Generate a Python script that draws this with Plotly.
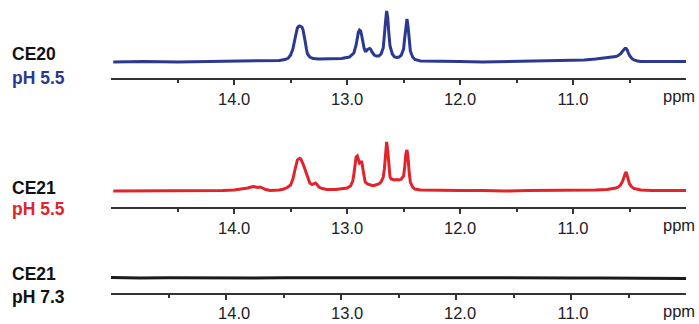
import plotly.graph_objects as go

# ---------------- data (intensity in arbitrary units above baseline) ----------------
ppm_ce20 = [15.07, 14.8, 14.5, 14.2, 13.9, 13.7, 13.6, 13.55, 13.52, 13.50, 13.48, 13.46, 13.45, 13.44,
            13.43, 13.42, 13.41, 13.40, 13.39, 13.38, 13.37, 13.36, 13.35, 13.33, 13.30, 13.25, 13.15,
            13.05, 12.98, 12.94, 12.92, 12.91, 12.90, 12.89, 12.88, 12.87, 12.86, 12.85, 12.84, 12.83,
            12.82, 12.81, 12.80, 12.79, 12.78, 12.76, 12.74, 12.72, 12.70, 12.68, 12.67, 12.66, 12.65,
            12.64, 12.63, 12.62, 12.60, 12.58, 12.56, 12.54, 12.52, 12.50, 12.49, 12.48, 12.47, 12.46,
            12.45, 12.44, 12.42, 12.40, 12.35, 12.2, 12.0, 11.8, 11.6, 11.4, 11.2, 11.0, 10.9, 10.8,
            10.7, 10.65, 10.62, 10.60, 10.58, 10.56, 10.55, 10.54, 10.53, 10.52, 10.51, 10.50, 10.48,
            10.46, 10.43, 10.40, 10.3, 10.2, 10.1, 10.0]
int_ce20 = [0, 0.5, 0, 0.5, 0.5, 1, 1.5, 2.5, 4, 7, 13, 24, 30, 34,
            35.5, 36, 35.5, 35, 32, 27, 20, 13, 8, 5, 3.5, 3, 3,
            3.5, 5, 9, 17, 24, 30, 32, 31, 26, 19, 14, 11, 11,
            12.5, 13.5, 13.5, 12.5, 10, 7, 6, 6, 8, 14, 24, 40, 51,
            44, 28, 16, 8, 5, 4.5, 5, 7, 13, 24, 38, 43, 35,
            20, 11, 5, 2.5, 1, 0.5, 0.5, 0, 0.5, 0.5, 1, 1.5, 2, 3,
            4, 4.5, 5.5, 6.5, 8, 11, 12.5, 13.5, 13.5, 12, 9, 6.5, 3.5,
            2, 1, 0.5, 0.5, 0.5, 0, 0.5]

ppm_ce21_55 = [15.07, 14.9, 14.6, 14.3, 14.1, 14.0, 13.93, 13.88, 13.85, 13.83, 13.81, 13.79, 13.77, 13.75,
               13.72, 13.68, 13.64, 13.60, 13.56, 13.53, 13.50, 13.48, 13.46, 13.45, 13.44, 13.43, 13.42,
               13.41, 13.40, 13.39, 13.38, 13.37, 13.36, 13.35, 13.34, 13.33, 13.31, 13.29, 13.28, 13.27,
               13.25, 13.22, 13.18, 13.1, 13.05, 13.0, 12.97, 12.95, 12.94, 12.93, 12.92, 12.91, 12.90,
               12.89, 12.88, 12.87, 12.86, 12.85, 12.84, 12.82, 12.80, 12.78, 12.76, 12.74, 12.72, 12.70,
               12.68, 12.67, 12.66, 12.65, 12.64, 12.63, 12.62, 12.61, 12.60, 12.58, 12.56, 12.54, 12.52,
               12.50, 12.49, 12.48, 12.47, 12.46, 12.45, 12.44, 12.42, 12.40, 12.35, 12.2, 12.0, 11.8,
               11.6, 11.4, 11.2, 11.0, 10.9, 10.8, 10.7, 10.65, 10.62, 10.60, 10.58, 10.56, 10.55, 10.54,
               10.53, 10.52, 10.51, 10.50, 10.48, 10.46, 10.43, 10.40, 10.3, 10.2, 10.1, 10.0]
int_ce21_55 = [0, 0, 0, 0, 0.5, 1, 2, 3, 4, 4.5, 4, 3.5, 4, 3,
               1.5, 0.5, 0.5, 1, 2, 3.5, 6, 12, 22, 28, 31, 32, 32.5,
               32, 30, 27, 24, 21, 17, 13, 10, 8, 6.5, 7.5, 8, 7,
               4, 2.5, 1.5, 1.5, 2, 3, 5, 10, 17, 28, 34, 35, 31,
               28, 29, 29, 22, 13, 9, 7, 6, 5.5, 5.5, 6, 7, 9,
               14, 22, 38, 49, 40, 22, 14, 12, 11.5, 11, 11.5, 11, 12,
               15, 24, 37, 41, 33, 18, 9, 4, 2, 1, 0.5, 0.5, 0.5,
               0, 0.5, 0.5, 0.5, 1, 1, 1.5, 2, 3, 4, 6, 10, 14, 17,
               19, 16, 11, 7, 4, 2.5, 1.5, 1, 0.5, 0.5, 0.5, 0.5]

ppm_ce21_73 = [15.0, 14.75, 14.5, 14.25, 14.0, 13.75, 13.5, 13.25, 13.0, 12.75, 12.5, 12.4, 12.25, 12.0,
               11.75, 11.5, 11.25, 11.0, 10.75, 10.5, 10.25, 10.0]
int_ce21_73 = [0.5, 0, 0.3, 0, 0.3, 0, 0.3, 0, 0.3, 0.3, 0.5, 0.7, 0.5, 0.3,
               0.3, 0, 0, 0, 0, -0.3, -0.3, -0.6]

tick_vals = [14, 13, 12, 11]
tick_text = ["14.0", "13.0", "12.0", "11.0"]
minor_vals = [14.5, 13.5, 12.5, 11.5, 10.5]

sample_names = ["CE20", "CE21", "CE21"]
ph_labels = ["pH 5.5", "pH 5.5", "pH 7.3"]
colors = ["#2b3990", "#e1232b", "#1a1a1a"]

# ---------------- figure ----------------
W, H = 699, 324


def py(y):
    return 1 - y / H


xdom = [111 / W, 686 / W]
fig = go.Figure()
fig.add_trace(go.Scatter(x=ppm_ce20, y=int_ce20, mode="lines", line=dict(color=colors[0], width=3),
                         xaxis="x", yaxis="y", hoverinfo="skip"))
fig.add_trace(go.Scatter(x=ppm_ce21_55, y=int_ce21_55, mode="lines", line=dict(color=colors[1], width=3),
                         xaxis="x2", yaxis="y2", hoverinfo="skip"))
fig.add_trace(go.Scatter(x=ppm_ce21_73, y=int_ce21_73, mode="lines", line=dict(color=colors[2], width=3),
                         xaxis="x3", yaxis="y3", hoverinfo="skip"))
fig.add_trace(go.Scatter(x=[], y=[], mode="lines", xaxis="x4", yaxis="y3", hoverinfo="skip"))

tickfont = dict(family="Liberation Sans, Arial, sans-serif", size=16.5, color="#222222")


def xax(rng, anchor, labels=True, line=True, tickcolor="#333333"):
    return dict(domain=xdom, range=rng, anchor=anchor, showline=line, linecolor="#333333", linewidth=2,
                ticks="outside", ticklen=5, tickwidth=1.5, tickcolor=tickcolor,
                tickmode="array", tickvals=tick_vals, ticktext=tick_text,
                showticklabels=labels, tickfont=tickfont, showgrid=False, zeroline=False,
                minor=dict(tickmode="array", tickvals=minor_vals if line else [], ticks="outside",
                           ticklen=3, tickwidth=1.5, tickcolor=tickcolor, showgrid=False))


yax_common = dict(visible=False, showgrid=False, zeroline=False, fixedrange=True)

fig.update_layout(
    width=W, height=H, margin=dict(l=0, r=0, t=0, b=0),
    paper_bgcolor="white", plot_bgcolor="rgba(0,0,0,0)", showlegend=False,
    xaxis=xax([15.09, 10.0], "y"),
    xaxis2=xax([15.09, 10.0], "y2"),
    xaxis3=xax([15.0, 10.0], "y3", labels=False),
    xaxis4=xax([15.09, 10.0], "y3", labels=True, line=False, tickcolor="rgba(0,0,0,0)") | dict(overlaying="x3"),
    yaxis=dict(domain=[py(78), py(5)], range=[-16, 57], **yax_common),
    yaxis2=dict(domain=[py(207), py(130)], range=[-16, 61], **yax_common),
    yaxis3=dict(domain=[py(293), py(255)], range=[-15, 23], **yax_common),
)

labfont = "Liberation Sans, Arial, sans-serif"
name_y = [54.5, 187.5, 273.5]
ph_y = [77.5, 208.5, 296.5]
ppm_y = [96, 225, 311]
for i in range(3):
    fig.add_annotation(text="<b>%s</b>" % sample_names[i], x=10 / W, y=py(name_y[i]), xref="paper", yref="paper",
                       xanchor="left", yanchor="middle", showarrow=False,
                       font=dict(family=labfont, size=17.5, color="#111111"))
    fig.add_annotation(text="<b>%s</b>" % ph_labels[i], x=10 / W, y=py(ph_y[i]), xref="paper", yref="paper",
                       xanchor="left", yanchor="middle", showarrow=False,
                       font=dict(family=labfont, size=17.5, color=colors[i] if i < 2 else "#111111"))
    fig.add_annotation(text="ppm", x=697 / W, y=py(ppm_y[i]), xref="paper", yref="paper",
                       xanchor="right", yanchor="middle", showarrow=False, font=tickfont)

fig.write_html("out.html", config={"displayModeBar": False},
               post_script="document.body.style.margin='0';document.body.style.padding='0';")
